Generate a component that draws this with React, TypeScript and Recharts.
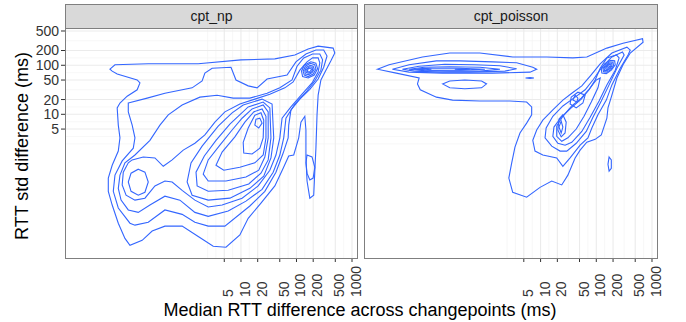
import React from 'react'
import { ComposedChart, Line, XAxis, YAxis, CartesianGrid } from 'recharts'

// Axis breaks in ms. The chart works in log10(ms), like ggplot's scale_*_log10.
const xBreaks = [5, 10, 20, 50, 100, 200, 500, 1000]
const yBreaks = [5, 10, 20, 50, 100, 200, 500]
// minor grid lines sit halfway between majors on the log scale
const xMinor = [2.5, 3.54, 7.07, 14.1, 31.6, 70.7, 141, 316, 707]
const yMinor = [2.5, 3.54, 7.07, 14.1, 31.6, 70.7, 141, 316]

const xDomain = [-2.17, 3.09]
const yDomain = [-1.93, 2.76]

type Ring = [number, number][]

// ---- cpt_np density contours, points are [log10 median diff, log10 std diff]
const npOuter: Ring[] = [
  [[-1.36, 1.92], [-1.27, 2.01], [-0.67, 2.03], [0.23, 2.03], [1.0, 2.11], [1.61, 2.13], [1.97, 2.21], [2.21, 2.33], [2.39, 2.39], [2.66, 2.35], [2.69, 2.25], [2.62, 2.09], [2.53, 1.9], [2.44, 1.7], [2.39, 1.39], [2.37, 0.99], [2.35, 0.31], [2.33, -0.16], [2.31, -0.65], [2.24, -0.71], [2.19, -0.36], [2.17, 0.11], [2.17, 0.68], [2.15, 0.96], [2.08, 0.84], [2.04, 0.52], [1.95, 0.17], [1.86, 0.15], [1.76, -0.1], [1.61, -0.46], [1.36, -0.81], [1.13, -1.12], [0.98, -1.46], [0.73, -1.71], [0.5, -1.69], [0.23, -1.49], [-0.06, -1.28], [-0.37, -1.28], [-0.6, -1.38], [-0.78, -1.57], [-1.0, -1.67], [-1.09, -1.53], [-1.21, -1.22], [-1.32, -0.85], [-1.39, -0.57], [-1.39, -0.3], [-1.32, -0.04], [-1.21, 0.25], [-1.18, 0.52], [-1.21, 0.78], [-1.23, 1.13], [-1.18, 1.23], [-1.05, 1.37], [-0.87, 1.5], [-0.82, 1.64], [-0.87, 1.7], [-1.23, 1.82], [-1.32, 1.88]],
  [[-1.03, 1.23], [-0.69, 1.33], [-0.37, 1.43], [0.12, 1.54], [0.3, 1.68], [0.35, 1.84], [0.48, 1.94], [0.82, 1.96], [0.91, 1.7], [1.13, 1.58], [1.29, 1.54], [1.47, 1.72], [1.83, 1.8], [1.99, 2.07], [2.17, 2.23], [2.35, 2.31], [2.49, 2.31], [2.55, 2.19], [2.49, 1.96], [2.39, 1.72], [2.24, 1.51], [2.06, 1.31], [1.9, 1.09], [1.86, 0.78], [1.85, 0.52], [1.76, 0.21], [1.63, -0.18], [1.43, -0.57], [1.16, -0.87], [0.71, -1.28], [0.41, -1.28], [0.17, -1.2], [-0.06, -1.04], [-0.37, -0.95], [-0.67, -1.2], [-0.91, -1.26], [-1.0, -1.22], [-1.21, -0.91], [-1.3, -0.57], [-1.27, -0.24], [-1.14, 0.05], [-0.94, 0.31], [-0.91, 0.52], [-0.96, 0.78], [-1.03, 1.05]],
  [[-1.18, -0.24], [-1.09, 0.01], [-0.91, 0.17], [-0.64, 0.47], [-0.46, 0.78], [-0.31, 0.99], [-0.06, 1.19], [0.26, 1.35], [0.57, 1.39], [0.86, 1.33], [1.16, 1.33], [1.47, 1.43], [1.7, 1.54], [1.92, 1.7], [2.01, 1.98], [2.13, 2.15], [2.29, 2.23], [2.42, 2.23], [2.47, 2.11], [2.44, 1.9], [2.33, 1.68], [2.17, 1.45], [1.97, 1.21], [1.81, 0.92], [1.77, 0.52], [1.7, 0.17], [1.58, -0.18], [1.38, -0.53], [1.09, -0.77], [0.77, -0.97], [0.41, -1.08], [0.17, -1.0], [-0.1, -0.75], [-0.37, -0.67], [-0.64, -0.85], [-0.85, -1.0], [-1.03, -0.95], [-1.16, -0.75], [-1.21, -0.51]],
  [[-1.14, -0.44], [-1.12, -0.18], [-1.03, 0.01], [-0.96, 0.07], [-0.76, 0.13], [-0.55, 0.11], [-0.4, -0.06], [-0.24, 0.07], [-0.04, 0.27], [0.17, 0.41], [0.35, 0.58], [0.53, 0.84], [0.71, 1.05], [0.98, 1.21], [1.25, 1.31], [1.52, 1.41], [1.79, 1.54], [1.94, 1.66], [2.06, 1.9], [2.19, 2.07], [2.29, 2.15], [2.39, 2.15], [2.42, 2.05], [2.39, 1.86], [2.28, 1.64], [2.1, 1.41], [1.9, 1.15], [1.74, 0.92], [1.7, 0.52], [1.63, 0.17], [1.52, -0.14], [1.31, -0.46], [1.02, -0.71], [0.66, -0.85], [0.41, -0.89], [0.17, -0.75], [-0.06, -0.55], [-0.24, -0.38], [-0.37, -0.36], [-0.55, -0.46], [-0.73, -0.71], [-0.91, -0.75], [-1.07, -0.65]],
]

const npLeftMode: Ring[] = [
  [[-0.85, -0.12], [-0.73, -0.18], [-0.67, -0.38], [-0.73, -0.59], [-0.85, -0.65], [-0.98, -0.57], [-1.03, -0.38], [-0.98, -0.2]],
]

const npCentreMode: Ring[] = [
  [[1.04, 1.19], [1.38, 1.31], [1.56, 1.21], [1.59, 0.52], [1.54, 0.11], [1.41, -0.26], [1.16, -0.51], [0.8, -0.71], [0.41, -0.75], [0.12, -0.65], [0.03, -0.38], [0.1, 0.01], [0.3, 0.35], [0.59, 0.76], [0.84, 1.03]],
  [[1.13, 1.15], [1.4, 1.25], [1.52, 1.13], [1.54, 0.52], [1.49, 0.07], [1.36, -0.2], [1.14, -0.42], [0.77, -0.55], [0.41, -0.57], [0.21, -0.46], [0.19, -0.18], [0.34, 0.15], [0.55, 0.47], [0.8, 0.8]],
  [[1.2, 1.11], [1.4, 1.19], [1.49, 1.05], [1.49, 0.52], [1.43, 0.13], [1.32, -0.14], [1.09, -0.28], [0.73, -0.36], [0.41, -0.36], [0.32, -0.22], [0.41, 0.07], [0.62, 0.37], [0.84, 0.68], [1.02, 0.92]],
  [[1.23, 1.05], [1.38, 1.11], [1.45, 0.96], [1.45, 0.52], [1.4, 0.17], [1.25, 0.01], [0.98, -0.08], [0.69, -0.14], [0.55, -0.04], [0.66, 0.23], [0.89, 0.54], [1.07, 0.84]],
  [[1.25, 0.98], [1.36, 1.03], [1.41, 0.88], [1.4, 0.52], [1.34, 0.31], [1.2, 0.19], [1.05, 0.21], [1.04, 0.43], [1.13, 0.72]],
  [[1.27, 0.9], [1.34, 0.92], [1.38, 0.82], [1.32, 0.72], [1.25, 0.78]],
]

const npUpperMode: Ring[] = [
  [[2.35, 2.04], [2.38, 1.93], [2.32, 1.8], [2.21, 1.74], [2.11, 1.77], [2.09, 1.88], [2.14, 2.0], [2.26, 2.07]],
  [[2.33, 2.01], [2.35, 1.92], [2.3, 1.82], [2.21, 1.77], [2.14, 1.8], [2.12, 1.88], [2.16, 1.98], [2.25, 2.04]],
  [[2.3, 1.98], [2.32, 1.92], [2.28, 1.85], [2.22, 1.81], [2.16, 1.82], [2.15, 1.89], [2.18, 1.96], [2.25, 2.0]],
  [[2.28, 1.96], [2.29, 1.91], [2.27, 1.86], [2.22, 1.84], [2.18, 1.85], [2.17, 1.89], [2.2, 1.94], [2.24, 1.97]],
  [[2.26, 1.94], [2.27, 1.91], [2.25, 1.88], [2.23, 1.86], [2.2, 1.87], [2.2, 1.9], [2.21, 1.93], [2.24, 1.94]],
]

const npSpike: Ring[] = [
  [[2.19, 0.17], [2.28, 0.13], [2.33, -0.08], [2.3, -0.3], [2.24, -0.34], [2.19, -0.2], [2.17, 0.01]],
]

// ---- cpt_poisson density contours
const poissonOuter: Ring[] = [
  [[-1.93, 1.92], [-1.72, 2.01], [-1.12, 2.17], [-0.63, 2.25], [-0.09, 2.25], [0.5, 2.17], [1.11, 2.17], [1.58, 2.15], [1.83, 2.17], [2.19, 2.35], [2.48, 2.45], [2.83, 2.54], [2.84, 2.47], [2.61, 2.25], [2.48, 2.01], [2.37, 1.74], [2.28, 1.39], [2.21, 1.13], [2.19, 0.92], [2.09, 0.58], [1.98, 0.49], [1.83, 0.43], [1.71, 0.27], [1.62, 0.11], [1.49, -0.24], [1.38, -0.44], [1.2, -0.36], [0.99, -0.49], [0.75, -0.69], [0.5, -0.59], [0.43, -0.3], [0.48, 0.0], [0.54, 0.33], [0.63, 0.62], [0.75, 0.82], [0.84, 0.99], [0.84, 1.15], [0.75, 1.25], [0.45, 1.27], [-0.09, 1.27], [-0.58, 1.29], [-0.87, 1.35], [-1.16, 1.5], [-1.21, 1.62], [-1.18, 1.74], [-1.59, 1.84]],
]

const poissonBand: Ring[] = [
  [[-1.66, 1.92], [-1.36, 2.01], [-0.87, 2.09], [-0.45, 2.09], [0.14, 2.07], [0.57, 2.05], [0.86, 1.96], [0.93, 1.92], [0.81, 1.86], [0.14, 1.84], [-0.76, 1.84], [-1.36, 1.86]],
  [[-1.48, 1.92], [-1.18, 1.98], [-0.72, 2.02], [-0.18, 2.01], [0.27, 1.99], [0.57, 1.93], [0.36, 1.88], [-0.27, 1.86], [-0.81, 1.86], [-1.27, 1.88]],
  [[-1.36, 1.92], [-1.09, 1.96], [-0.63, 1.97], [-0.09, 1.96], [0.27, 1.92], [-0.09, 1.88], [-0.63, 1.88], [-1.09, 1.89]],
  [[-1.27, 1.92], [-0.99, 1.94], [-0.45, 1.94], [0.0, 1.92], [-0.45, 1.9], [-0.99, 1.9]],
  [[-1.21, 1.92], [-1.09, 1.94], [-0.96, 1.92], [-1.09, 1.91]],
  [[-0.54, 1.92], [-0.42, 1.93], [-0.27, 1.92], [-0.42, 1.91]],
  [[-0.76, 1.62], [-0.63, 1.68], [-0.36, 1.7], [-0.06, 1.68], [0.03, 1.62], [-0.06, 1.54], [-0.36, 1.52], [-0.63, 1.54]],
  [[0.73, 1.74], [0.81, 1.75], [0.88, 1.74], [0.81, 1.73]],
]

const poissonDiagonal: Ring[] = [
  [[2.28, 2.25], [2.55, 2.37], [2.61, 2.31], [2.57, 2.21], [2.43, 1.94], [2.28, 1.6], [2.18, 1.29], [2.03, 0.99], [1.92, 0.72], [1.85, 0.52], [1.71, 0.37], [1.53, 0.11], [1.4, -0.06], [1.29, 0.11], [1.04, 0.17], [0.9, 0.25], [0.86, 0.47], [0.93, 0.68], [1.04, 0.88], [1.22, 1.09], [1.4, 1.29], [1.56, 1.43], [1.74, 1.58], [1.89, 1.78], [2.07, 2.03]],
  [[2.28, 2.17], [2.47, 2.27], [2.5, 2.21], [2.37, 1.94], [2.23, 1.6], [2.09, 1.27], [1.94, 0.94], [1.82, 0.65], [1.64, 0.41], [1.47, 0.25], [1.35, 0.25], [1.2, 0.35], [1.08, 0.52], [1.1, 0.72], [1.22, 0.96], [1.4, 1.17], [1.62, 1.35], [1.8, 1.5], [1.94, 1.7], [2.1, 1.96]],
  [[2.19, 2.15], [2.36, 2.21], [2.41, 2.15], [2.34, 1.9], [2.19, 1.6], [2.05, 1.27], [1.89, 0.94], [1.74, 0.65], [1.56, 0.43], [1.44, 0.37], [1.31, 0.41], [1.22, 0.55], [1.24, 0.74], [1.37, 0.94], [1.55, 1.13], [1.73, 1.31], [1.87, 1.5], [1.98, 1.7], [2.07, 1.94]],
  [[2.0, 1.7], [2.07, 1.74], [2.03, 1.54], [1.91, 1.25], [1.78, 0.96], [1.64, 0.7], [1.49, 0.52], [1.38, 0.45], [1.29, 0.55], [1.29, 0.76], [1.4, 0.96], [1.56, 1.17], [1.73, 1.33], [1.87, 1.51]],
  [[1.55, 1.35], [1.67, 1.45], [1.8, 1.39], [1.76, 1.23], [1.64, 1.13], [1.53, 1.21]],
  [[1.62, 1.39], [1.67, 1.33], [1.65, 1.25], [1.58, 1.29]],
  [[1.33, 0.9], [1.4, 0.99], [1.46, 0.84], [1.44, 0.62], [1.37, 0.54], [1.31, 0.68]],
  [[1.37, 0.86], [1.4, 0.74], [1.37, 0.62], [1.33, 0.74]],
  [[2.23, 0.13], [2.27, 0.07], [2.27, -0.1], [2.23, -0.16], [2.21, -0.02]],
]

const poissonUpperMode: Ring[] = [
  [[2.33, 2.09], [2.34, 2.01], [2.27, 1.9], [2.18, 1.83], [2.1, 1.84], [2.09, 1.92], [2.15, 2.03], [2.25, 2.1]],
  [[2.3, 2.06], [2.31, 2.0], [2.26, 1.91], [2.19, 1.86], [2.13, 1.87], [2.12, 1.93], [2.17, 2.02], [2.24, 2.07]],
  [[2.28, 2.04], [2.28, 1.99], [2.25, 1.93], [2.19, 1.89], [2.15, 1.89], [2.14, 1.94], [2.18, 2.0], [2.23, 2.04]],
  [[2.26, 2.01], [2.26, 1.98], [2.24, 1.94], [2.2, 1.91], [2.17, 1.92], [2.17, 1.95], [2.19, 1.99], [2.23, 2.02]],
  [[2.23, 1.99], [2.24, 1.97], [2.22, 1.95], [2.21, 1.94], [2.19, 1.94], [2.19, 1.96], [2.2, 1.98], [2.22, 1.99]],
]

const facets = [
  { label: 'cpt_np', rings: [...npOuter, ...npLeftMode, ...npCentreMode, ...npUpperMode, ...npSpike] },
  { label: 'cpt_poisson', rings: [...poissonOuter, ...poissonBand, ...poissonDiagonal, ...poissonUpperMode] },
]

const FONT = '"Liberation Sans", Arial, Helvetica, sans-serif'
const CONTOUR = '#3366FF'
const TICK_TEXT = '#333333'

const fmt = (v: number) => String(Math.round(10 ** v))

const XTick = ({ x, payload }: any) => (
  <text
    transform={`translate(${x + 9},297) rotate(-90)`}
    fontSize={14}
    fill={TICK_TEXT}
    fontFamily={FONT}
  >
    {fmt(payload.value)}
  </text>
)

const Facet = ({ label, rings, left, plotLeft, plotWidth, showY }: any) => {
  const width = plotLeft + plotWidth + 13
  return (
    <div style={{ position: 'absolute', left, top: 0, width, height: 322 }}>
      <ComposedChart width={width} height={322} margin={{ top: 28, right: 13, bottom: 4, left: 0 }}>
        <CartesianGrid
          verticalValues={xMinor.map(Math.log10)}
          horizontalValues={yMinor.map(Math.log10)}
          stroke="#f3f3f3"
          strokeWidth={0.7}
        />
        <CartesianGrid
          verticalValues={xBreaks.map(Math.log10)}
          horizontalValues={yBreaks.map(Math.log10)}
          stroke="#ebebeb"
          strokeWidth={1.1}
        />
        <XAxis
          type="number"
          dataKey="x"
          domain={xDomain}
          allowDataOverflow
          ticks={xBreaks.map(Math.log10)}
          interval={0}
          axisLine={false}
          tickLine={{ stroke: '#333333' }}
          tickSize={4}
          height={60}
          tick={<XTick />}
        />
        <YAxis
          type="number"
          domain={yDomain}
          allowDataOverflow
          ticks={yBreaks.map(Math.log10)}
          interval={0}
          hide={!showY}
          width={65}
          axisLine={false}
          tickLine={{ stroke: '#333333' }}
          tickSize={4}
          tickMargin={2}
          tickFormatter={fmt}
          tick={{ fontSize: 14, fill: TICK_TEXT, fontFamily: FONT }}
        />
        {rings.map((ring: Ring, i: number) => (
          <Line
            key={i}
            data={ring.map(([x, y]) => ({ x, y }))}
            dataKey="y"
            type="linearClosed"
            dot={false}
            activeDot={false}
            stroke={CONTOUR}
            strokeWidth={1.1}
            isAnimationActive={false}
          />
        ))}
      </ComposedChart>
      <div
        style={{
          position: 'absolute',
          left: plotLeft,
          top: 28,
          width: plotWidth + 1,
          height: 231,
          border: '1px solid #7f7f7f',
          boxSizing: 'border-box',
          pointerEvents: 'none',
        }}
      />
      <div
        style={{
          position: 'absolute',
          left: plotLeft,
          top: 4,
          width: plotWidth + 1,
          height: 25,
          background: '#d9d9d9',
          border: '1px solid #7f7f7f',
          boxSizing: 'border-box',
          textAlign: 'center',
          lineHeight: '23px',
          fontSize: 14,
          color: '#1a1a1a',
          fontFamily: FONT,
        }}
      >
        {label}
      </div>
    </div>
  )
}

export default function App() {
  return (
    <div
      style={{
        position: 'absolute',
        left: 0,
        top: 0,
        width: 686,
        height: 322,
        background: '#ffffff',
        fontFamily: FONT,
        overflow: 'hidden',
      }}
    >
      <Facet label={facets[0].label} rings={facets[0].rings} left={0} plotLeft={65} plotWidth={292} showY />
      <Facet label={facets[1].label} rings={facets[1].rings} left={364} plotLeft={0} plotWidth={293} showY={false} />
      <div
        style={{
          position: 'absolute',
          left: 22 - 110,
          top: 146 - 11,
          width: 220,
          height: 22,
          lineHeight: '22px',
          textAlign: 'center',
          fontSize: 18,
          color: '#000',
          transform: 'rotate(-90deg)',
        }}
      >
        RTT std difference (ms)
      </div>
      <div
        style={{
          position: 'absolute',
          left: 160,
          top: 299,
          width: 400,
          lineHeight: '22px',
          textAlign: 'center',
          fontSize: 18,
          color: '#000',
        }}
      >
        Median RTT difference across changepoints (ms)
      </div>
    </div>
  )
}
